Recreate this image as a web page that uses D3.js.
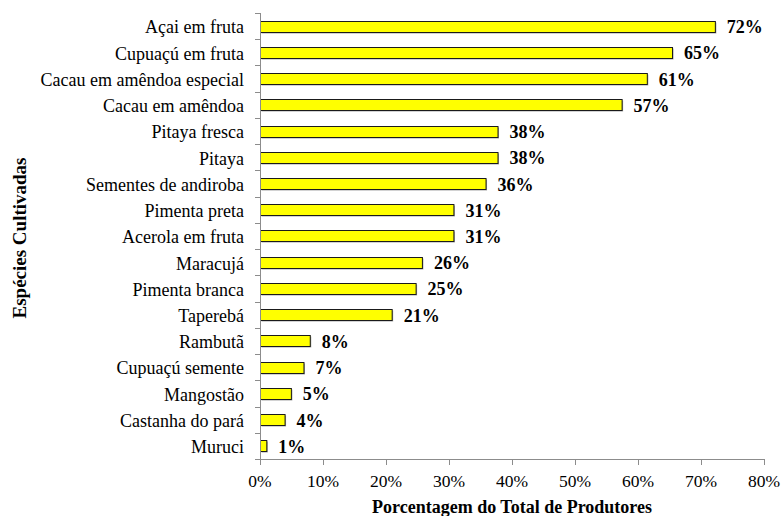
<!DOCTYPE html>
<html><head><meta charset="utf-8">
<script src="https://cdn.jsdelivr.net/npm/d3@7"></script>
<style>
body{margin:0;background:#fff}
#wrap{position:relative;width:781px;height:516px;overflow:hidden}
svg{display:block;position:absolute;left:0;top:0}
</style>
</head><body>
<div id="wrap"><svg id="c" width="781" height="516"></svg></div>
<script>
const categories = ["Açai em fruta","Cupuaçú em fruta","Cacau em amêndoa especial","Cacau em amêndoa","Pitaya fresca","Pitaya","Sementes de andiroba","Pimenta preta","Acerola em fruta","Maracujá","Pimenta branca","Taperebá","Rambutã","Cupuaçú semente","Mangostão","Castanha do pará","Muruci"];
const values = [72.2,65.4,61.4,57.4,37.7,37.7,35.8,30.7,30.7,25.7,24.7,20.9,7.9,6.9,4.9,3.9,1.0];
const valueLabels = ["72%","65%","61%","57%","38%","38%","36%","31%","31%","26%","25%","21%","8%","7%","5%","4%","1%"];
const xTicks = [0,10,20,30,40,50,60,70,80];
const xTitle = "Porcentagem do Total de Produtores";
const yTitle = "Espécies Cultivadas";

const svg = d3.select("#c");
const wrap = d3.select("#wrap");
const L = 260, R = 764, T = 13, B = 459;
const x = d3.scaleLinear().domain([0,80]).range([L,R]);
const y = d3.scaleBand().domain(categories).range([T,B]).paddingInner(0.58).paddingOuter(0.29);
const step = (B-T)/categories.length;
const yc = (c)=>y(c)+y.bandwidth()/2;

// bar shadows
svg.append("g").selectAll("rect").data(values).join("rect")
  .attr("x", x(0)+1.5)
  .attr("y", (d,i)=>Math.round(y(categories[i]))+1.5)
  .attr("width", d=>x(d)-x(0))
  .attr("height", Math.round(y.bandwidth()))
  .attr("fill","#a6a6a6");
// bars
svg.append("g").selectAll("rect").data(values).join("rect")
  .attr("x", x(0)+0.5)
  .attr("y", (d,i)=>Math.round(y(categories[i]))+0.5)
  .attr("width", d=>x(d)-x(0))
  .attr("height", Math.round(y.bandwidth()))
  .attr("fill","#ffff00").attr("stroke","#1a1a1a").attr("stroke-width",1);

// y axis
const gy = svg.append("g");
gy.append("line").attr("x1",L+0.5).attr("x2",L+0.5).attr("y1",T).attr("y2",B).attr("stroke","#8c8c8c");
gy.selectAll("line.t").data(d3.range(categories.length+1)).join("line").attr("class","t")
  .attr("x1",L-5).attr("x2",L).attr("y1",i=>Math.round(T+i*step)+0.5).attr("y2",i=>Math.round(T+i*step)+0.5)
  .attr("stroke","#8c8c8c");

// x axis
const gx = svg.append("g");
gx.append("line").attr("x1",L).attr("x2",R+0.5).attr("y1",B+0.5).attr("y2",B+0.5).attr("stroke","#8c8c8c");
gx.selectAll("line.t").data(xTicks).join("line").attr("class","t")
  .attr("x1",d=>Math.round(x(d))+0.5).attr("x2",d=>Math.round(x(d))+0.5).attr("y1",B).attr("y2",B+6)
  .attr("stroke","#8c8c8c");

// A: category labels - SVG text, attr "Times New Roman"
svg.append("g").selectAll("text").data(categories).join("text")
  .attr("x",244).attr("y",d=>yc(d)+1).attr("dy","0.35em")
  .attr("text-anchor","end").attr("font-family","Times New Roman").attr("font-size",18)
  .text(d=>d);

// B: value labels - HTML div, inline style quoted
values.forEach((v,i)=>{
  const dv = document.createElement("div");
  dv.setAttribute("style", `position:absolute;white-space:nowrap;line-height:1;font-family:'Liberation Serif';font-size:18px;font-weight:bold;left:${x(v)+12}px;top:${yc(categories[i])+1}px;transform:translate(0,-50%)`);
  dv.textContent = valueLabels[i];
  document.getElementById("wrap").appendChild(dv);
});

// C: tick labels - SVG text, style quoted
svg.append("g").selectAll("text").data(xTicks).join("text")
  .attr("x",d=>x(d)).attr("y",487)
  .attr("text-anchor","middle").attr("style","font-family:'Liberation Serif', serif;font-size:17.5px")
  .text(d=>d+"%");

// D: titles - generic serif
svg.append("text").attr("x",512).attr("y",512.5).attr("text-anchor","middle")
  .attr("font-family","serif").attr("font-weight","bold").attr("font-size",18).text(xTitle);
svg.append("text").attr("transform","translate(26,238) rotate(-90)").attr("text-anchor","middle")
  .attr("font-family","serif").attr("font-weight","bold").attr("font-size",19).text(yTitle);
</script>
</body></html>
